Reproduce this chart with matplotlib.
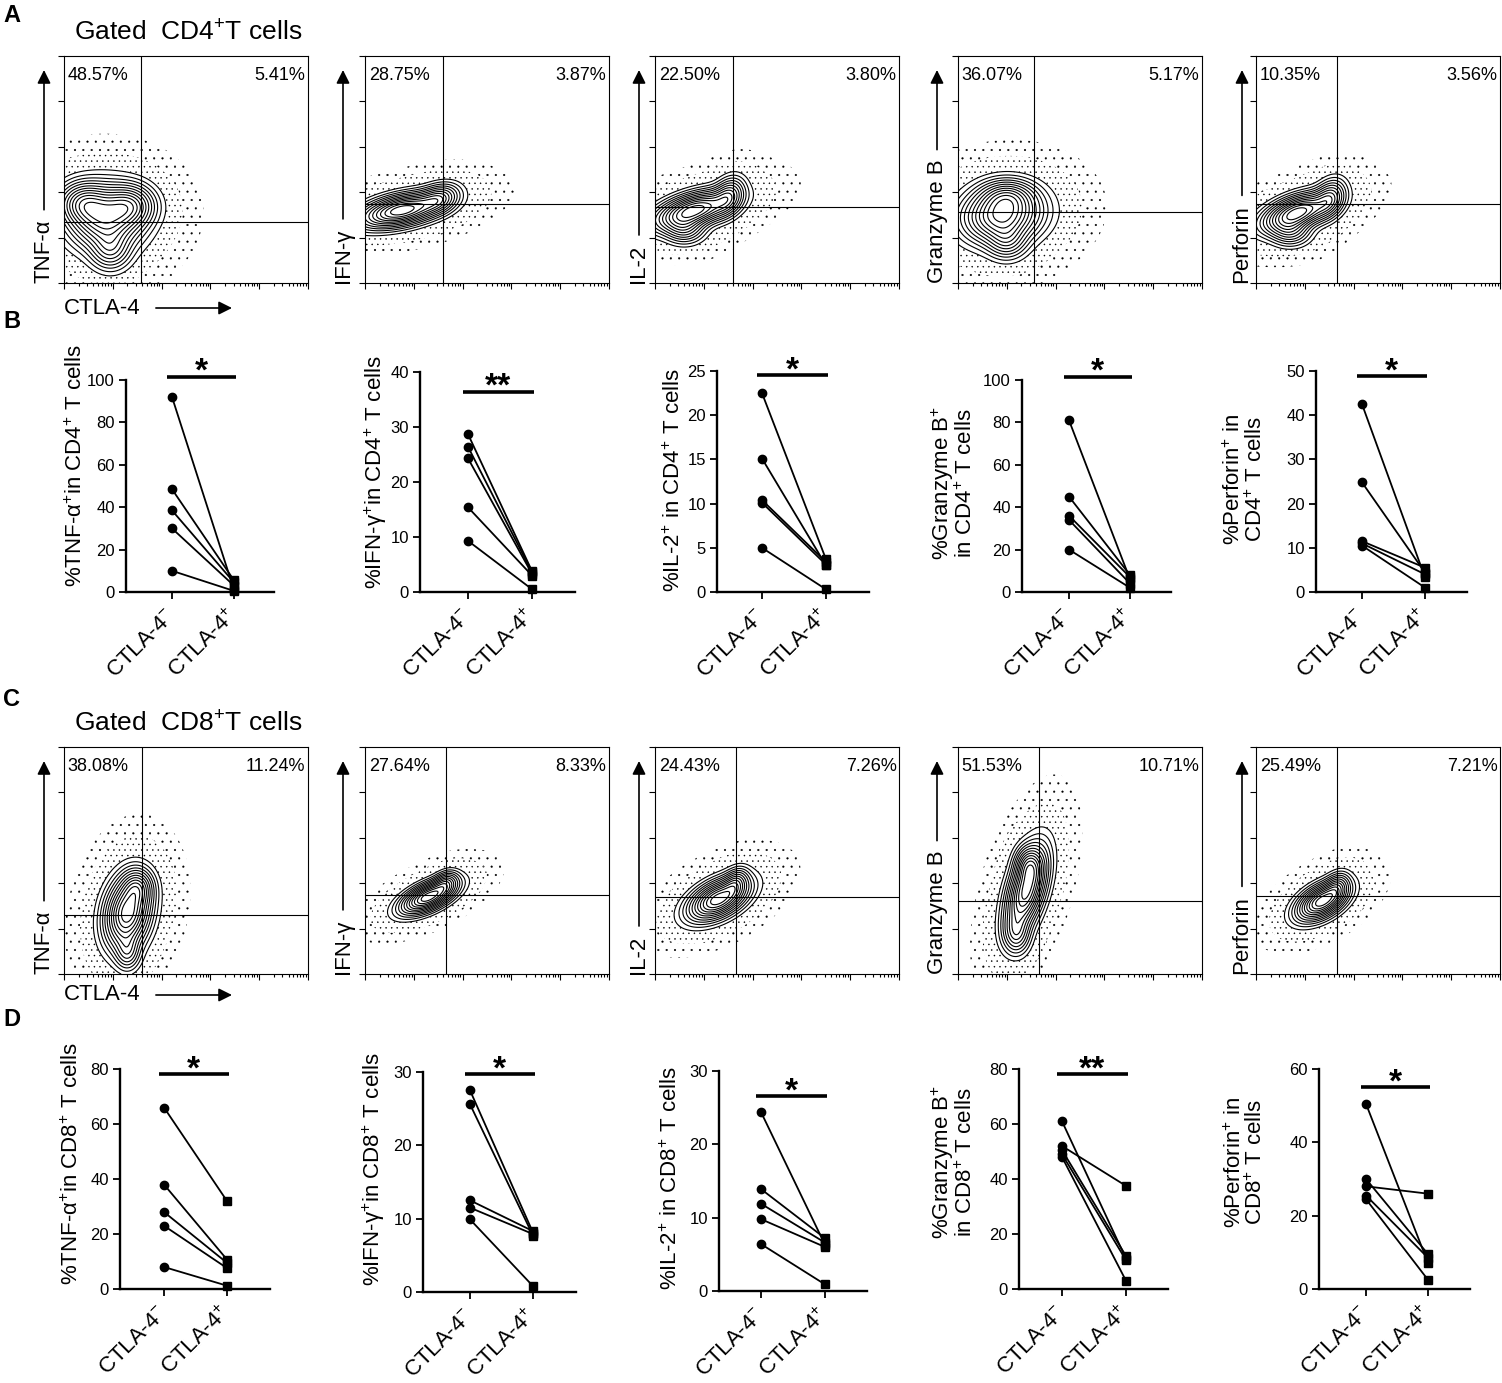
import numpy as np
import matplotlib
matplotlib.use('Agg')
import matplotlib.pyplot as plt

plt.rcParams['font.family'] = ['Liberation Sans', 'DejaVu Sans']
plt.rcParams['mathtext.fontset'] = 'custom'
plt.rcParams['mathtext.rm'] = 'Liberation Sans'
plt.rcParams['mathtext.default'] = 'regular'
plt.rcParams['hatch.color'] = 'black'
plt.rcParams['hatch.linewidth'] = 0.3

# ---------------- data ----------------
groups = ['CTLA-4$^{-}$', 'CTLA-4$^{+}$']
cytokines = ['TNF-α', 'IFN-γ', 'IL-2', 'Granzyme B', 'Perforin']

# flow quadrant percentages
cd4_q_ul = ['48.57%', '28.75%', '22.50%', '36.07%', '10.35%']
cd4_q_ur = ['5.41%', '3.87%', '3.80%', '5.17%', '3.56%']
cd8_q_ul = ['38.08%', '27.64%', '24.43%', '51.53%', '25.49%']
cd8_q_ur = ['11.24%', '8.33%', '7.26%', '10.71%', '7.21%']
# gate positions (fraction of axis)
cd4_gate_x = [0.317, 0.320, 0.320, 0.313, 0.333]
cd4_gate_y = [0.270, 0.348, 0.337, 0.312, 0.350]
cd8_gate_x = [0.319, 0.332, 0.330, 0.333, 0.333]
cd8_gate_y = [0.260, 0.350, 0.340, 0.320, 0.345]
# population shapes: (cx, cy, sx, sy, rho, weight)
cd4_pops = [
    [(0.17, 0.29, 0.08, 0.075, 0.0, 1.0), (0.08, 0.35, 0.055, 0.05, 0.0, 0.6),
     (0.27, 0.34, 0.055, 0.05, 0.0, 0.6), (0.19, 0.15, 0.045, 0.05, 0.0, 0.35)],
    [(0.15, 0.32, 0.09, 0.04, 0.45, 1.0), (0.30, 0.37, 0.045, 0.035, 0.3, 0.4)],
    [(0.16, 0.32, 0.085, 0.045, 0.5, 1.0), (0.30, 0.38, 0.035, 0.045, 0.3, 0.4),
     (0.12, 0.24, 0.045, 0.035, 0.0, 0.3)],
    [(0.18, 0.30, 0.085, 0.065, 0.1, 1.0), (0.20, 0.38, 0.06, 0.04, 0.0, 0.4),
     (0.20, 0.19, 0.045, 0.045, 0.0, 0.3)],
    [(0.17, 0.31, 0.075, 0.045, 0.5, 1.0), (0.30, 0.37, 0.035, 0.045, 0.3, 0.4),
     (0.14, 0.23, 0.045, 0.035, 0.0, 0.3)],
]
cd8_pops = [
    [(0.26, 0.27, 0.05, 0.085, 0.2, 1.0), (0.30, 0.38, 0.035, 0.045, 0.0, 0.4),
     (0.26, 0.10, 0.028, 0.045, 0.0, 0.25)],
    [(0.26, 0.34, 0.06, 0.04, 0.6, 1.0), (0.33, 0.40, 0.028, 0.028, 0.3, 0.3)],
    [(0.26, 0.33, 0.065, 0.05, 0.5, 1.0), (0.33, 0.40, 0.028, 0.035, 0.3, 0.3)],
    [(0.28, 0.37, 0.045, 0.10, 0.5, 1.0), (0.29, 0.48, 0.03, 0.045, 0.0, 0.4),
     (0.24, 0.18, 0.03, 0.05, 0.0, 0.3)],
    [(0.27, 0.32, 0.055, 0.045, 0.5, 1.0), (0.33, 0.38, 0.028, 0.035, 0.3, 0.3)],
]

# paired percentages (CTLA-4- , CTLA-4+)
cd4_tnf_neg = [92, 48.5, 38.5, 30, 10];        cd4_tnf_pos = [1, 5.5, 4.5, 3, 0.5]
cd4_ifn_neg = [28.7, 26.4, 24.3, 15.4, 9.3];   cd4_ifn_pos = [3.8, 3.6, 3.3, 3.0, 0.5]
cd4_il2_neg = [22.5, 15.1, 10.4, 10.1, 5.0];   cd4_il2_pos = [3.7, 3.0, 3.4, 3.1, 0.3]
cd4_gzb_neg = [81, 45, 36, 34, 20];            cd4_gzb_pos = [6, 8, 7, 4, 2]
cd4_prf_neg = [42.5, 24.8, 11.5, 11, 10.5];    cd4_prf_pos = [3.3, 4.4, 5.5, 4, 1]

cd8_tnf_neg = [66, 38, 28, 23, 8];             cd8_tnf_pos = [32, 10.7, 9.5, 7.6, 1.2]
cd8_ifn_neg = [27.5, 25.6, 12.5, 11.5, 9.9];   cd8_ifn_pos = [8.1, 7.7, 8.3, 7.9, 0.8]
cd8_il2_neg = [24.4, 13.9, 11.9, 9.8, 6.4];    cd8_il2_pos = [6.3, 7.2, 6.6, 6.0, 0.9]
cd8_gzb_neg = [61, 52, 50.5, 49, 48];          cd8_gzb_pos = [11, 37.5, 12, 10.5, 3]
cd8_prf_neg = [50.5, 30, 28, 25.5, 24.5];      cd8_prf_pos = [7.1, 9.5, 26, 8.5, 2.5]

cd4_neg = [cd4_tnf_neg, cd4_ifn_neg, cd4_il2_neg, cd4_gzb_neg, cd4_prf_neg]
cd4_pos = [cd4_tnf_pos, cd4_ifn_pos, cd4_il2_pos, cd4_gzb_pos, cd4_prf_pos]
cd8_neg = [cd8_tnf_neg, cd8_ifn_neg, cd8_il2_neg, cd8_gzb_neg, cd8_prf_neg]
cd8_pos = [cd8_tnf_pos, cd8_ifn_pos, cd8_il2_pos, cd8_gzb_pos, cd8_prf_pos]

cd4_ymax = [100, 40, 25, 100, 50];  cd4_ystep = [20, 10, 5, 20, 10]
cd8_ymax = [80, 30, 30, 80, 60];    cd8_ystep = [20, 10, 10, 20, 20]
cd4_sig = ['*', '**', '*', '*', '*']
cd8_sig = ['*', '*', '*', '**', '*']
cd4_ylabels = ['%TNF-α$^{+}$in CD4$^{+}$ T cells', '%IFN-γ$^{+}$in CD4$^{+}$ T cells',
               '%IL-2$^{+}$ in CD4$^{+}$ T cells', '%Granzyme B$^{+}$\nin CD4$^{+}$ T cells',
               '%Perforin$^{+}$ in\nCD4$^{+}$ T cells']
cd8_ylabels = ['%TNF-α$^{+}$in CD8$^{+}$ T cells', '%IFN-γ$^{+}$in CD8$^{+}$ T cells',
               '%IL-2$^{+}$ in CD8$^{+}$ T cells', '%Granzyme B$^{+}$\nin CD8$^{+}$ T cells',
               '%Perforin$^{+}$ in\nCD8$^{+}$ T cells']

# ---------------- layout (pixels) ----------------
W, H = 1502, 1383
fig = plt.figure(figsize=(W / 100, H / 100), dpi=100)


def add_px_axes(l, t, r, b):
    return fig.add_axes([l / W, 1 - b / H, (r - l) / W, (b - t) / H])


flow_left = [64, 365, 655, 958, 1256]
flow_w = 244
arrow_x = [44, 343, 639, 937, 1242]

gx = np.linspace(0, 1, 301)
XX, YY = np.meshgrid(gx, gx)


def mixture(comps, scale=1.0):
    D = np.zeros_like(XX)
    for cx, cy, sx, sy, rho, w in comps:
        dx = (XX - cx) / (sx * scale)
        dy = (YY - cy) / (sy * scale)
        q = (dx * dx - 2 * rho * dx * dy + dy * dy) / (1 - rho * rho)
        D += w * np.exp(-0.5 * q)
    return D / D.max()


levels = [0.02, 0.045, 0.08, 0.125, 0.18, 0.25, 0.33, 0.42, 0.52, 0.63, 0.75, 0.88]


def flow_row(top, bottom, q_ul, q_ur, gxs, gys, pops, title, first_label_y):
    for i in range(5):
        l = flow_left[i]
        ax = add_px_axes(l, top, l + flow_w, bottom)
        D = mixture(pops[i])
        Hh = mixture(pops[i], 2.0)
        F = np.where(D < levels[0], Hh, 0.0)
        ax.contourf(XX, YY, F, levels=[0.03, 0.12, 2.0], colors='none',
                    hatches=['..', '...'])
        ax.contour(XX, YY, D, levels=levels, colors='k', linewidths=0.8)
        ax.axvline(gxs[i], color='k', lw=0.8)
        ax.axhline(gys[i], color='k', lw=0.8)
        ax.set_xlim(0, 1)
        ax.set_ylim(0, 1)
        maj = np.linspace(0, 1, 6)
        ax.set_xticks(maj)
        ax.set_yticks(maj)
        minor = [0.2 * d + 0.2 * np.log10(k) for d in range(5) for k in range(2, 10)]
        ax.set_xticks(minor, minor=True)
        ax.tick_params(which='both', direction='out', labelbottom=False, labelleft=False,
                       width=0.8, colors='k')
        ax.tick_params(which='major', length=4)
        ax.tick_params(which='minor', length=2.5)
        for s in ax.spines.values():
            s.set_linewidth(0.8)
        ax.text(0.015, 0.915, q_ul[i], transform=ax.transAxes, ha='left', va='center',
                fontsize=13)
        ax.text(0.99, 0.915, q_ur[i], transform=ax.transAxes, ha='right', va='center',
                fontsize=13)
        ax.annotate(cytokines[i], xy=(arrow_x[i], H - (top + 14)), xycoords='figure pixels',
                    xytext=(arrow_x[i], H - bottom), textcoords='figure pixels',
                    rotation=90, ha='center', va='bottom', fontsize=16,
                    arrowprops=dict(arrowstyle='-|>', relpos=(0.5, 1.0), shrinkA=5,
                                    shrinkB=0, lw=1.2, color='k', mutation_scale=20))
    fig.axes[-5].annotate('CTLA-4', xy=(232, H - first_label_y), xycoords='figure pixels',
                          xytext=(64, H - first_label_y), textcoords='figure pixels',
                          ha='left', va='center', fontsize=16,
                          arrowprops=dict(arrowstyle='-|>', relpos=(1.0, 0.5), shrinkA=9,
                                          shrinkB=0, lw=1.2, color='k', mutation_scale=20))
    fig.text(188 / W, 1 - (top - 23) / H, title, ha='center', va='center', fontsize=19)


flow_row(56, 283, cd4_q_ul, cd4_q_ur, cd4_gate_x, cd4_gate_y, cd4_pops,
         'Gated  CD4$^{+}$T cells', 308)
flow_row(747, 974, cd8_q_ul, cd8_q_ur, cd8_gate_x, cd8_gate_y, cd8_pops,
         'Gated  CD8$^{+}$T cells', 995)

# paired plots
B_axes = [(126, 274, 380, 592), (420, 575, 372, 592), (717, 869, 371, 592),
          (1022, 1171, 380, 592), (1316, 1467, 371, 592)]
B_cats = [(172, 234), (468, 532), (762, 826), (1069, 1130), (1362, 1425)]
B_sig_y = [101.5, 36.4, 24.5, 101.6, 48.8]
B_lab = [(76, 466), (376, 472), (674, 480), (953, 483), (1245, 479)]
D_axes = [(120, 270, 1069, 1289), (423, 576, 1072, 1292), (719, 867, 1071, 1291),
          (1019, 1168, 1069, 1289), (1319, 1470, 1069, 1289)]
D_cats = [(164, 227), (470, 533), (761, 825), (1062, 1126), (1366, 1428)]
D_sig_y = [78.2, 29.7, 26.6, 78.2, 55.0]
D_lab = [(72, 1164), (374, 1169), (671, 1178), (953, 1162), (1246, 1162)]


def paired_row(axes_px, cats, sig_ys, labs, negs, poss, ymaxs, ysteps, sigs, ylabels):
    for i in range(5):
        l, r, t, b = axes_px[i]
        c0, c1 = cats[i]
        ax = add_px_axes(l, t, r, b)
        for a, c in zip(negs[i], poss[i]):
            ax.plot([0, 1], [a, c], color='k', lw=1.3, clip_on=False, zorder=2)
        ax.plot(np.zeros(len(negs[i])), negs[i], 'o', ms=6, color='k', clip_on=False,
                zorder=3)
        ax.plot(np.ones(len(poss[i])), poss[i], 's', ms=6, color='k', clip_on=False,
                zorder=3)
        ax.set_xlim((l - c0) / (c1 - c0), (r - c0) / (c1 - c0))
        ax.set_ylim(0, ymaxs[i])
        ax.set_yticks(np.arange(0, ymaxs[i] + 0.1, ysteps[i]))
        ax.set_xticks([0, 1])
        ax.set_xticklabels(groups, rotation=45, ha='right', va='center',
                           rotation_mode='anchor', fontsize=16)
        ax.tick_params(axis='y', labelsize=12, length=5, width=1.3, direction='out', pad=3)
        ax.tick_params(axis='x', length=5, width=1.3, direction='out', pad=10)
        for s in ['top', 'right']:
            ax.spines[s].set_visible(False)
        for s in ['left', 'bottom']:
            ax.spines[s].set_linewidth(1.7)
        ax.plot([-0.08, 1.03], [sig_ys[i], sig_ys[i]], color='k', lw=2.6, clip_on=False,
                solid_capstyle='butt')
        ax.annotate(sigs[i], xy=(0.47, sig_ys[i]), xycoords='data', xytext=(0, -3),
                    textcoords='offset points', ha='center', va='baseline', fontsize=24,
                    fontweight='bold', annotation_clip=False)
        fig.text(labs[i][0] / W, 1 - labs[i][1] / H, ylabels[i], rotation=90,
                 ha='center', va='center', fontsize=16, multialignment='center',
                 linespacing=1.0)


paired_row(B_axes, B_cats, B_sig_y, B_lab, cd4_neg, cd4_pos, cd4_ymax, cd4_ystep,
           cd4_sig, cd4_ylabels)
paired_row(D_axes, D_cats, D_sig_y, D_lab, cd8_neg, cd8_pos, cd8_ymax, cd8_ystep,
           cd8_sig, cd8_ylabels)

for letter, (x, y) in zip('ABCD', [(12, 15), (12, 321), (12, 700), (12, 1020)]):
    fig.text(x / W, 1 - y / H, letter, ha='center', va='center', fontsize=17,
             fontweight='bold')

fig.savefig('out.png', dpi=100)
